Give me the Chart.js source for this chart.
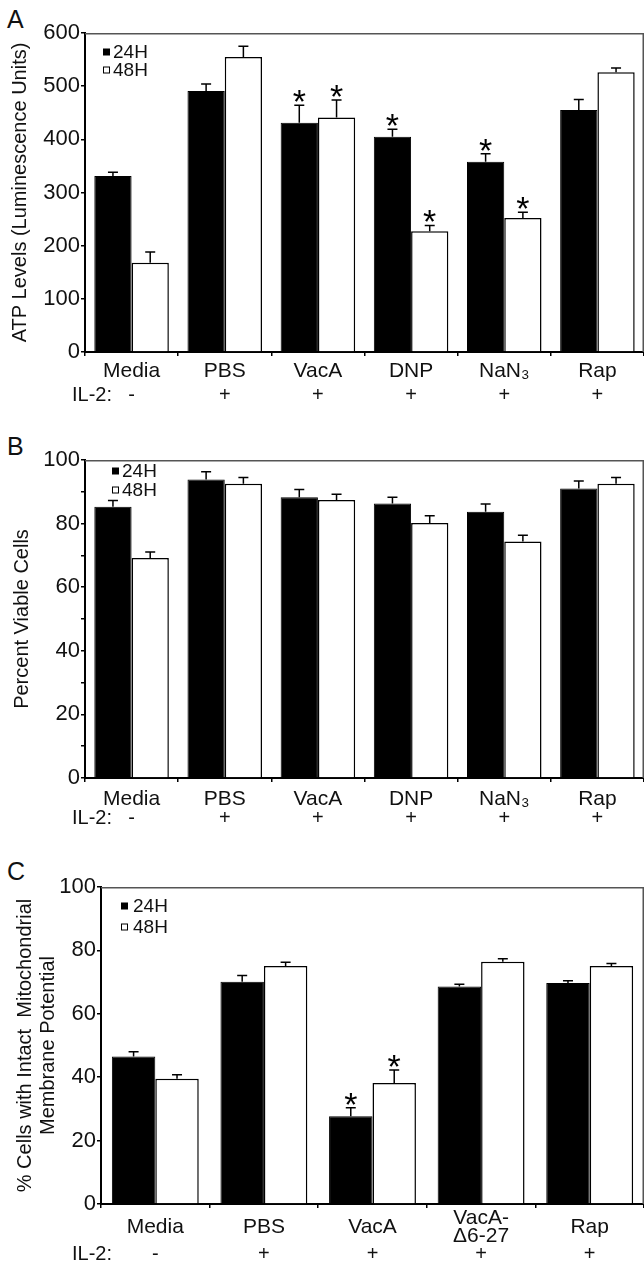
<!DOCTYPE html>
<html><head><meta charset="utf-8">
<script src="https://cdn.jsdelivr.net/npm/chart.js@4.4.0/dist/chart.umd.min.js"></script>
<style>
html,body{margin:0;padding:0;background:#fff;overflow:hidden;}
#wrap{position:relative;width:644px;height:1269px;overflow:hidden;background:#fff;}
canvas{position:absolute;left:0;}
.pl{position:absolute;font-family:'Liberation Sans',Arial,sans-serif;font-size:25px;line-height:25px;color:#111;}
</style></head><body>
<div id="wrap">
<div class="pl" style="left:7px;top:7px">A</div>
<div class="pl" style="left:7px;top:434px">B</div>
<div class="pl" style="left:7px;top:859px">C</div>
<canvas id="cA" width="645" height="415" style="top:0"></canvas>
<canvas id="cB" width="645" height="420" style="top:420px"></canvas>
<canvas id="cC" width="645" height="429" style="top:840px"></canvas>
</div>
<script>
const FONT = "'Liberation Sans', Arial, sans-serif";
const seriesNames = ['24H', '48H'];
const il2Title = 'IL-2:';

// Panel A: ATP levels
const catsA = ['Media', 'PBS', 'VacA', 'DNP', 'NaN\u2083', 'Rap'];
const il2A = ['-', '+', '+', '+', '+', '+'];
const a24 = [331, 491, 431, 405, 358, 455];
const a24err = [7, 13, 33, 14, 15, 20];
const a48 = [168, 555, 441, 227, 252, 526];
const a48err = [20, 20, 33, 11, 11, 8];
const a24star = [0, 0, 1, 1, 1, 0];
const a48star = [0, 0, 1, 1, 1, 0];

// Panel B: viability
const catsB = ['Media', 'PBS', 'VacA', 'DNP', 'NaN\u2083', 'Rap'];
const il2B = ['-', '+', '+', '+', '+', '+'];
const b24 = [85.3, 93.9, 88.3, 86.3, 83.7, 91.0];
const b24err = [2.0, 2.4, 2.4, 2.0, 2.5, 2.4];
const b48 = [69.2, 92.5, 87.4, 80.2, 74.4, 92.5];
const b48err = [1.9, 2.0, 1.8, 2.3, 1.9, 2.0];
const b24star = [0, 0, 0, 0, 0, 0];
const b48star = [0, 0, 0, 0, 0, 0];

// Panel C: mitochondrial membrane potential
const catsC = ['Media', 'PBS', 'VacA', ['VacA-', '\u03946-27'], 'Rap'];
const il2C = ['-', '+', '+', '+', '+'];
const c24 = [46.5, 70.1, 27.7, 68.6, 69.7];
const c24err = [1.5, 2.0, 2.7, 0.7, 0.7];
const c48 = [39.5, 75.1, 38.2, 76.4, 75.1];
const c48err = [1.3, 1.2, 4.1, 1.0, 0.8];
const c24star = [0, 0, 1, 0, 0];
const c48star = [0, 0, 1, 0, 0];

const extras = {
  id: 'extras',
  afterDatasetsDraw(chart, args, o) {
    const ctx = chart.ctx, ys = chart.scales.y;
    ctx.save();
    o.err.forEach((errs, i) => {
      const meta = chart.getDatasetMeta(i);
      const vals = chart.data.datasets[i].data;
      meta.data.forEach((bar, j) => {
        const top = ys.getPixelForValue(vals[j] + errs[j]);
        ctx.strokeStyle = '#000'; ctx.lineWidth = 1.5;
        ctx.beginPath();
        ctx.moveTo(bar.x, bar.y); ctx.lineTo(bar.x, top);
        ctx.moveTo(bar.x - 5, top); ctx.lineTo(bar.x + 5, top);
        ctx.stroke();
        if (o.stars[i][j]) {
          ctx.fillStyle = '#000'; ctx.font = '34px ' + FONT;
          ctx.textAlign = 'center'; ctx.textBaseline = 'alphabetic';
          ctx.fillText('*', bar.x, top + 8);
        }
      });
    });
    ctx.restore();
  },
  afterDraw(chart, args, o) {
    const ctx = chart.ctx, a = chart.chartArea, xs = chart.scales.x;
    ctx.save();
    ctx.strokeStyle = '#555'; ctx.lineWidth = 1.5;
    ctx.beginPath();
    ctx.moveTo(a.left, a.top + 0.75); ctx.lineTo(a.right - 0.75, a.top + 0.75);
    ctx.lineTo(a.right - 0.75, a.bottom);
    ctx.stroke();
    // legend
    const L = o.legend;
    ctx.font = '19px ' + FONT; ctx.textBaseline = 'middle'; ctx.textAlign = 'left';
    seriesNames.forEach((n, i) => {
      const yy = L.y[i];
      if (i === 0) { ctx.fillStyle = '#000'; ctx.fillRect(L.x, yy - 3.5, 7, 7); }
      else { ctx.strokeStyle = '#000'; ctx.lineWidth = 1; ctx.strokeRect(L.x + 0.5, yy - 3, 6, 6); }
      ctx.fillStyle = '#111';
      ctx.fillText(n, L.tx, yy + 1);
    });
    // IL-2 row
    ctx.fillStyle = '#111'; ctx.font = '20px ' + FONT; ctx.textBaseline = 'middle';
    ctx.textAlign = 'left'; ctx.fillText(il2Title, 72, o.il2Y);
    ctx.textAlign = 'center';
    o.il2.forEach((s, j) => ctx.fillText(s, xs.getPixelForValue(j), o.il2Y));
    ctx.restore();
  }
};

function build(id, c) {
  new Chart(document.getElementById(id), {
    type: 'bar',
    data: {
      labels: c.cats,
      datasets: [
        { label: seriesNames[0], data: c.d24, backgroundColor: '#000', borderColor: '#000', borderWidth: 1 },
        { label: seriesNames[1], data: c.d48, backgroundColor: '#fff', borderColor: '#000', borderWidth: 1.5 }
      ]
    },
    options: {
      responsive: false, animation: false, devicePixelRatio: 1,
      datasets: { bar: { barPercentage: 1, categoryPercentage: 0.8 } },
      layout: { padding: { top: c.top, right: 1, left: 0, bottom: 0 } },
      plugins: {
        legend: { display: false }, tooltip: { enabled: false },
        extras: { err: [c.e24, c.e48], stars: [c.s24, c.s48], legend: c.legend, il2: c.il2, il2Y: c.il2Y }
      },
      scales: {
        x: {
          offset: true,
          grid: { offset: true, drawOnChartArea: false, tickLength: 4, color: '#000', lineWidth: 1.5 },
          border: { color: '#000', width: 2 },
          ticks: { color: '#111', font: { family: FONT, size: 21, lineHeight: c.xlh || 1.2 }, padding: c.xpad,
                   maxRotation: 0, minRotation: 0, autoSkip: false, crossAlign: c.cross || 'near' },
          afterFit: s => { s.height = c.xh; }
        },
        y: {
          min: 0, max: c.max,
          grid: { drawOnChartArea: false, tickLength: 4, color: '#000', lineWidth: 1.5 },
          border: { color: '#000', width: 2 },
          ticks: { stepSize: c.step, color: '#111', font: { family: FONT, size: 22 }, padding: 1,
                   callback: v => (Math.abs(v % c.lstep) < 1e-6 ? v : '') },
          title: { display: true, text: c.ytitle, color: '#111', font: { family: FONT, size: 20, lineHeight: 1.15 },
                   padding: { top: c.tpad, bottom: 0 } },
          afterFit: s => { s.width = c.yw; }
        }
      }
    },
    plugins: [extras]
  });
}

build('cA', { cats: catsA, d24: a24, e24: a24err, d48: a48, e48: a48err, s24: a24star, s48: a48star,
  il2: il2A, il2Y: 395, legend: { x: 103, tx: 113, y: [52, 70] },
  top: 33, xh: 63, xpad: 3, yw: 85, max: 600, step: 50, lstep: 100,
  ytitle: 'ATP Levels (Luminescence Units)', tpad: 8.5 });

build('cB', { cats: catsB, d24: b24, e24: b24err, d48: b48, e48: b48err, s24: b24star, s48: b48star,
  il2: il2B, il2Y: 398, legend: { x: 112, tx: 122, y: [51, 70] },
  top: 40, xh: 62, xpad: 5, yw: 85, max: 100, step: 10, lstep: 20,
  ytitle: 'Percent Viable Cells', tpad: 10.5 });

build('cC', { cats: catsC, d24: c24, e24: c24err, d48: c48, e48: c48err, s24: c24star, s48: c48star,
  il2: il2C, il2Y: 414, legend: { x: 121, tx: 133, y: [66, 87] },
  top: 47, xh: 65, xpad: 10.5, xlh: 0.82, cross: 'center', yw: 101, max: 100, step: 20, lstep: 20,
  ytitle: ['% Cells with Intact  Mitochondrial', 'Membrane Potential'], tpad: 13.5 });
</script>
</body></html>
